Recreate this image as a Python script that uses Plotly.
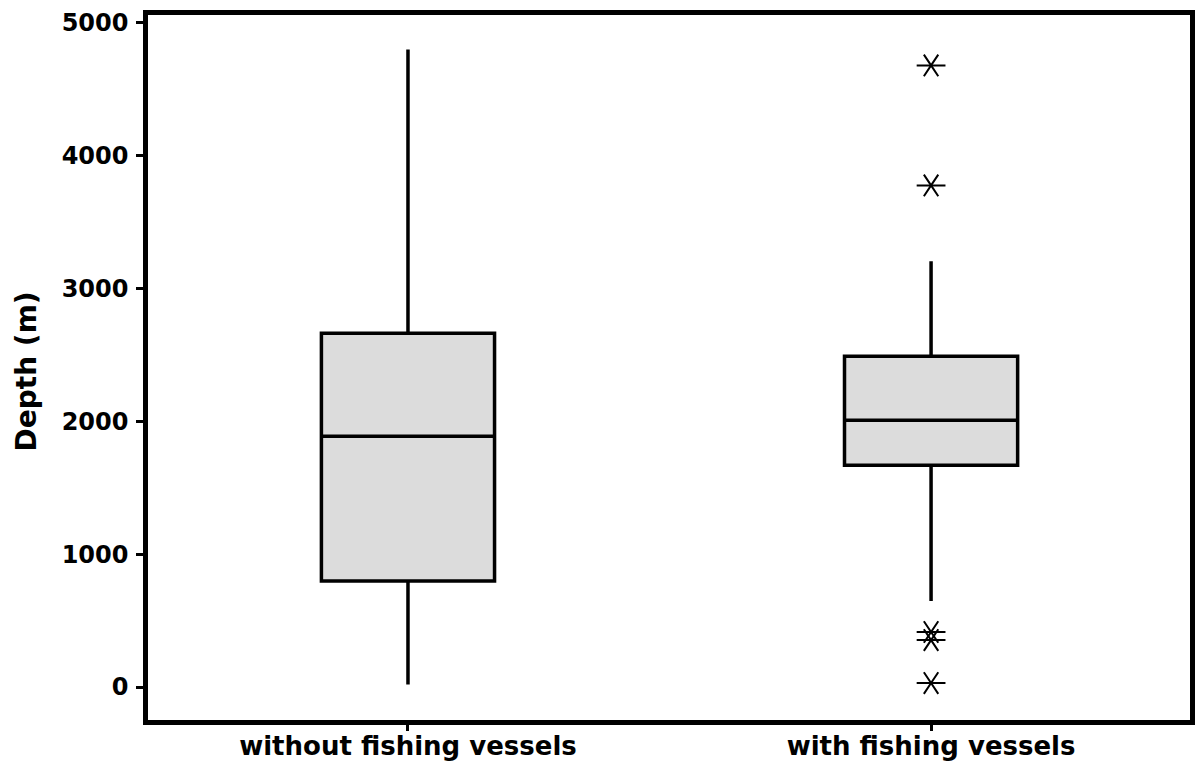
import plotly.graph_objects as go

# Depth summary for each group (metres)
groups = ["without fishing vessels", "with fishing vessels"]
q1 = [797, 1669]
median = [1887, 2008]
q3 = [2662, 2489]
lower_whisker = [20, 647]
upper_whisker = [4797, 3203]

# Outlying observations (only the group with fishing vessels has any)
outlier_group = ["with fishing vessels"] * 5
outlier_depth = [4677, 3774, 414, 353, 30]

FONT = "DejaVu Sans"

fig = go.Figure()

fig.add_trace(go.Box(
    x=groups,
    q1=q1,
    median=median,
    q3=q3,
    lowerfence=lower_whisker,
    upperfence=upper_whisker,
    boxpoints=False,
    width=0.331,
    whiskerwidth=0,
    fillcolor="#dcdcdc",
    line=dict(color="black", width=3.5),
    showlegend=False,
    hoverinfo="skip",
))

# Six-armed asterisk outlier markers: a left- and a right-pointing "y" overlaid
for sym in ("y-left-open", "y-right-open"):
    fig.add_trace(go.Scatter(
        x=outlier_group, y=outlier_depth, mode="markers",
        marker=dict(symbol=sym, size=18, color="black",
                    line=dict(color="black", width=2)),
        showlegend=False, hoverinfo="skip",
    ))

fig.update_layout(
    width=1195, height=763,
    margin=dict(l=148, r=5, t=15, b=43),
    paper_bgcolor="white",
    plot_bgcolor="white",
    font=dict(family=FONT, color="black"),
    annotations=[dict(
        text="Depth (m)", textangle=-90,
        xref="paper", yref="paper", x=0, y=0.5,
        xanchor="center", yanchor="middle",
        xshift=-122, yshift=-4, showarrow=False,
        font=dict(family=FONT, size=28, weight="bold", color="black"),
    )],
)

fig.update_xaxes(
    type="category",
    categoryorder="array", categoryarray=groups,
    range=[-0.497, 1.495],
    automargin=False,
    showline=True, mirror=True, linecolor="black", linewidth=4.5,
    ticks="outside", ticklen=6, tickwidth=3, tickcolor="black",
    ticklabelstandoff=-7,
    tickfont=dict(family=FONT, size=26, weight="bold"),
    showgrid=False, zeroline=False,
)

fig.update_yaxes(
    range=[-248, 5056],
    tickvals=[0, 1000, 2000, 3000, 4000, 5000],
    automargin=False,
    showline=True, mirror=True, linecolor="black", linewidth=4.5,
    ticks="outside", ticklen=7, tickwidth=3, tickcolor="black",
    ticklabelstandoff=3,
    tickfont=dict(family=FONT, size=24, weight="bold"),
    showgrid=False, zeroline=False,
)

fig.write_html("out.html")
